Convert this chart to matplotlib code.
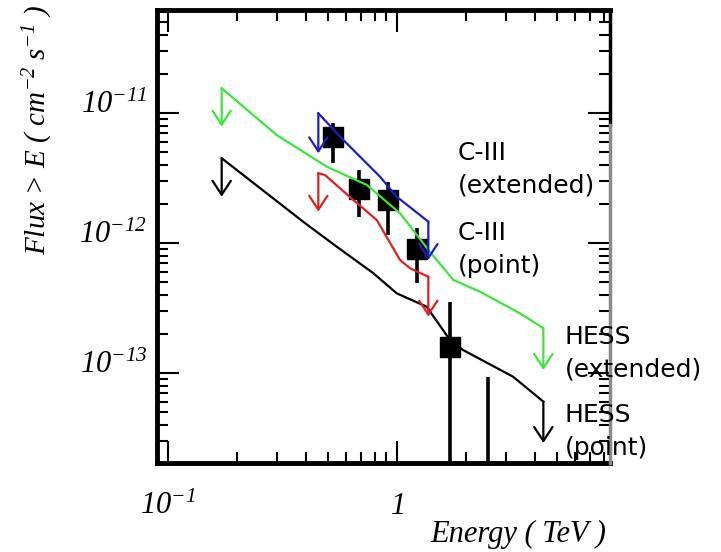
import matplotlib
matplotlib.use('Agg')
import matplotlib.pyplot as plt
from matplotlib.ticker import LogLocator, NullFormatter

plt.rcParams['mathtext.fontset'] = 'custom'
plt.rcParams['mathtext.rm'] = 'Liberation Serif:italic'
plt.rcParams['mathtext.it'] = 'Liberation Serif:italic'

# HESS extended source upper limit (green)
hess_ext_e = [0.172, 0.299, 0.495, 0.740, 1.034, 1.398, 1.767, 2.311, 3.455, 4.368]
hess_ext_f = [1.557e-11, 6.81e-12, 3.88e-12, 2.81e-12, 1.70e-12, 8.57e-13,
              5.22e-13, 4.24e-13, 2.89e-13, 2.22e-13]
hess_ext_tips = [7.89e-12, 1.06e-13]

# HESS point source upper limit (black)
hess_pt_e = [0.172, 0.390, 0.547, 0.788, 1.0, 1.352, 1.709, 1.948, 3.221, 4.368]
hess_pt_f = [4.51e-12, 1.466e-12, 9.41e-13, 5.91e-13, 4.12e-13, 3.25e-13,
             1.80e-13, 1.51e-13, 9.41e-14, 6.05e-14]
hess_pt_tips = [2.28e-12, 2.91e-14]

# C-III extended source upper limit (blue)
c3_ext_e = [0.4546, 0.5844, 0.8454, 1.0, 1.374]
c3_ext_f = [1.0e-11, 6.23e-12, 3.25e-12, 2.28e-12, 1.466e-12]
c3_ext_tips = [4.92e-12, 7.44e-13]

# C-III point source upper limit (red)
c3_pt_e = [0.4546, 0.4862, 0.6462, 0.8179, 1.0337, 1.1433, 1.374]
c3_pt_f = [3.455e-12, 3.35e-12, 2.154e-12, 1.511e-12, 7.44e-13, 6.42e-13, 5.53e-13]
c3_pt_tips = [1.75e-12, 2.73e-13]

# measured fluxes with error bars
pt_e = [0.5286, 0.6866, 0.919, 1.2229, 1.709, 2.512]
pt_f = [6.61e-12, 2.60e-12, 2.15e-12, 8.99e-13, 1.60e-13, 1.0e-14]
pt_lo = [4.12e-12, 1.60e-12, 1.16e-12, 4.92e-13, 1.0e-15, 1.0e-15]
pt_hi = [8.38e-12, 3.66e-12, 2.98e-12, 1.30e-12, 3.56e-13, 9.41e-14]

xlim = (0.0898, 8.54)
ylim = (2.04e-14, 6.23e-11)

fig = plt.figure(figsize=(7.21, 5.52), dpi=100)
ax = fig.add_axes([0.2178, 0.1612, 0.6283, 0.8207])
ax.set_xscale('log')
ax.set_yscale('log')
ax.set_xlim(*xlim)
ax.set_ylim(*ylim)

# data points
ax.vlines(pt_e, pt_lo, pt_hi, color='black', lw=2.6, zorder=3)
ax.plot(pt_e, pt_f, 's', color='black', ms=14, zorder=3)

curves = [
    (hess_ext_e, hess_ext_f, hess_ext_tips, '#3be63b'),
    (hess_pt_e, hess_pt_f, hess_pt_tips, 'black'),
    (c3_ext_e, c3_ext_f, c3_ext_tips, '#1c1cd0'),
    (c3_pt_e, c3_pt_f, c3_pt_tips, '#e02020'),
]
for e, f, tips, col in curves:
    ax.plot(e, f, color=col, lw=1.6, zorder=4)
    # downward arrows at both ends of each limit curve
    for x0, y0, y1 in [(e[0], f[0], tips[0]), (e[-1], f[-1], tips[1])]:
        ax.annotate('', xy=(x0, y1), xytext=(x0, y0),
                    arrowprops=dict(arrowstyle='->, head_length=0.5, head_width=0.33',
                                    color=col, lw=1.6, shrinkA=0, shrinkB=0,
                                    mutation_scale=20),
                    zorder=4)

# ticks
ax.set_xticks([0.1, 1])
ax.set_xticklabels([r'$10^{-1}$', r'$1$'])
ax.xaxis.set_minor_locator(LogLocator(base=10, subs=range(2, 10)))
ax.xaxis.set_minor_formatter(NullFormatter())
ax.set_yticks([1e-13, 1e-12, 1e-11])
ax.set_yticklabels([r'$10^{-13}$', r'$10^{-12}$', r'$10^{-11}$'])
ax.yaxis.set_minor_locator(LogLocator(base=10, subs=range(2, 10)))
ax.yaxis.set_minor_formatter(NullFormatter())

ax.tick_params(which='both', direction='in', top=True, right=True, width=1.5)
ax.tick_params(which='major', length=16)
ax.tick_params(which='minor', length=8)
ax.tick_params(axis='x', which='major', labelsize=22, pad=37)
ax.tick_params(axis='y', which='major', labelsize=22, pad=7)
for lab in ax.get_xticklabels():
    lab.set_verticalalignment('baseline')
for lab in ax.get_yticklabels():
    lab.set_verticalalignment('baseline')

for side in ['left', 'bottom', 'top']:
    ax.spines[side].set_linewidth(3.5)
# right frame: black at the top, grey further down
ax.spines['right'].set_linewidth(2.5)
ax.spines['right'].set_bounds(8.1e-12, ylim[1])
ax.plot([1, 1], [0, 0.747], transform=ax.transAxes, color='#8a8a8a', lw=2.5,
        clip_on=False, zorder=5)

ax.set_xlabel('Energy ( TeV )', fontsize=22, family='Liberation Serif', style='italic')
ax.xaxis.set_label_coords(0.797, -0.125)
ax.set_ylabel(r'Flux > E ( cm$^{-2}$ s$^{-1}$ )', fontsize=21,
              family='Liberation Serif', style='italic')
ax.yaxis.set_label_coords(-0.225, 0.735)

# labels are anchored on the baseline of their second line
label_kw = dict(fontsize=18, family='DejaVu Sans', va='baseline', ha='left',
                linespacing=1.45)
fig.text(0.635, 1 - 193 / 552, 'C-III\n(extended)', **label_kw)
fig.text(0.635, 1 - 273 / 552, 'C-III\n(point)', **label_kw)
fig.text(0.7836, 1 - 377 / 552, 'HESS\n(extended)', **label_kw)
fig.text(0.7836, 1 - 455 / 552, 'HESS\n(point)', **label_kw)

fig.savefig('out.png', dpi=100)
